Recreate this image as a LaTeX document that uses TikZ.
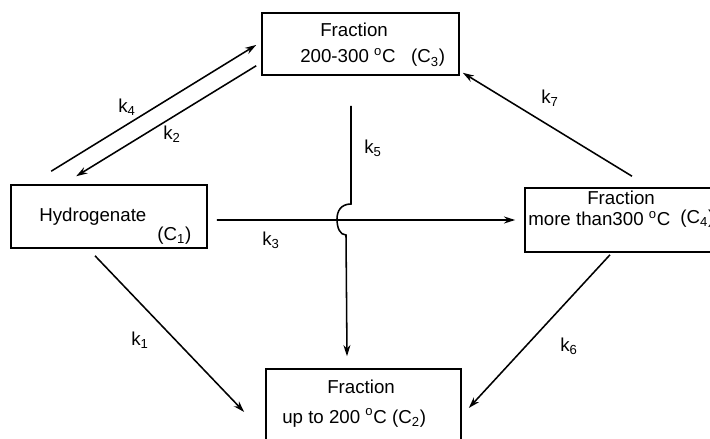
\documentclass[tikz,border=0pt]{standalone}
\usepackage{fontspec}
\setmainfont{Liberation Sans}
\usepackage{tikz}
\usetikzlibrary{arrows.meta, positioning, calc}

\begin{document}
\begin{tikzpicture}[
    x=0.025cm, y=-0.025cm,
    font=\fontsize{13.3}{15}\selectfont,
    box/.style={draw, line width=1.1pt, inner sep=0pt},
    txt/.style={inner sep=0pt, anchor=base west},
    klabel/.style={inner sep=0pt},
    arr/.style={line width=1.1pt, -{Stealth[length=8pt, width=5pt]}}
]
    \useasboundingbox (0,0) rectangle (710,439);
    \clip (0,0) rectangle (710,439);

    % boxes
    \node[box, minimum width=4.925cm, minimum height=1.55cm] (c3) at (360.5,44) {};
    \node[box, minimum width=4.9cm, minimum height=1.575cm] (c1) at (109,216.5) {};
    \node[box, minimum width=5.5cm, minimum height=1.6cm] (c4) at (635,220) {};
    \node[box, minimum width=4.875cm, minimum height=1.9cm] (c2) at (363.5,407) {};

    % texts
    \node[txt] (c3a) at (320,37) {Fraction};
    \node[txt] (c3b) at (300,63) {200-300 \textsuperscript{o}C\ \ \ (C\textsubscript{3})};
    \node[txt] (c1a) at (39,222) {Hydrogenate};
    \node[txt] (c1b) at (157,240) {(C\textsubscript{1})};
    \node[txt] (c4a) at (587,205) {Fraction};
    \node[txt] (c4b) at (528,226) {more than300 \textsuperscript{o}C};
    \node[txt] (c4c) at (680,223) {(C\textsubscript{4})};
    \node[txt] (c2a) at (327,393) {Fraction};
    \node[txt] (c2b) at (282,423) {up to 200 \textsuperscript{o}C (C\textsubscript{2})};

    % connectors
    \draw[arr] ($(c1.north west)+(41,-13)$) -- ($(c3.west)+(-5,1)$);
    \draw[arr] ($(c3.south west)+(-5,-10)$) -- ($(c1.north west)+(66,-8)$);
    \draw[arr] ($(c1.east)+(9,3.5)$) -- ($(c4.west)+(-9,0)$);
    \draw[arr] ($(c1.south)+(-14,7)$) -- ($(c2.west)+(-21,5)$);
    \draw[arr] ($(c4.south)+(-25,2)$) -- ($(c2.east)+(7,1)$);
    \draw[arr] ($(c4.north)+(-3,-11)$) -- ($(c3.south east)+(3,-3)$);
    % k5 with the hop over k3
    \coordinate (hop) at (346,220);
    \draw[arr] ($(c3.south)+(-9.5,30)$) -- ($(hop)+(5,-16)$)
        .. controls +(-10,0) and +(0,-8) .. ($(hop)+(-9,-1)$)
        .. controls +(0,9) and +(-6,0) .. ($(hop)+(0,15)$)
        -- ($(c2.north)+(-16.5,-12)$);

    % rate constants
    \node[klabel] (k4) at (127,107) {k\textsubscript{4}};
    \node[klabel] (k2) at (172,134) {k\textsubscript{2}};
    \node[klabel] (k5) at (373,148) {k\textsubscript{5}};
    \node[klabel] (k3) at (271,240) {k\textsubscript{3}};
    \node[klabel] (k1) at (140,340) {k\textsubscript{1}};
    \node[klabel] (k6) at (569,346) {k\textsubscript{6}};
    \node[klabel] (k7) at (550,98) {k\textsubscript{7}};
\end{tikzpicture}
\end{document}
